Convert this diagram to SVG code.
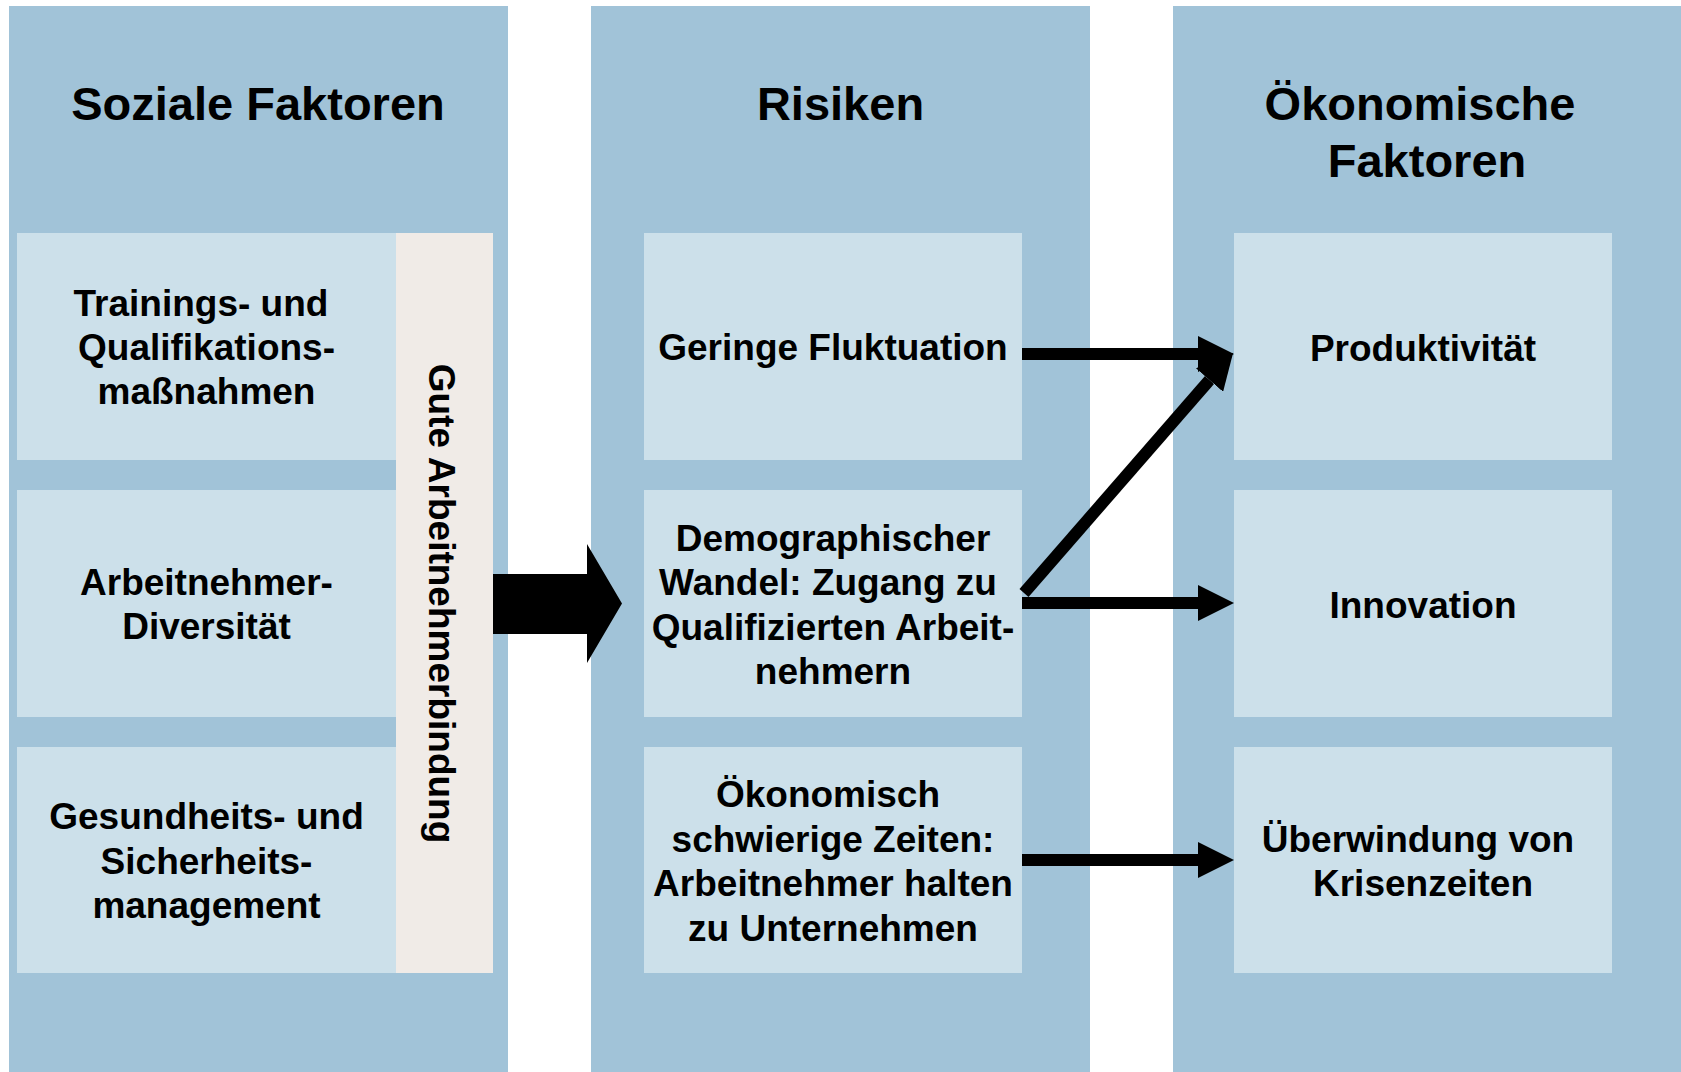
<svg xmlns="http://www.w3.org/2000/svg" width="1681" height="1072" viewBox="0 0 1681 1072">
<style>
.panel{fill:#A1C3D8}
.box{fill:#CCE0EA}
.band{fill:#F0EBE7}
text{font-family:"Liberation Sans",Arial,sans-serif;font-weight:bold;fill:#000}
.title{font-size:47px;text-anchor:middle}
.lbl{font-size:37px;text-anchor:middle}
.conn{stroke:#000;stroke-width:12;fill:none;marker-end:url(#head)}
</style>
<defs>
<marker id="head" markerUnits="userSpaceOnUse" markerWidth="36" markerHeight="36" refX="0" refY="18" orient="auto" viewBox="0 0 36 36">
<path d="M0,0 L36,18 L0,36 z" fill="#000"/>
</marker>
</defs>
<rect width="1681" height="1072" fill="#FFFFFF"/>

<g id="col-soziale">
<rect class="panel" x="9" y="6" width="499" height="1066"/>
<text class="title" x="258" y="120">Soziale Faktoren</text>
</g>
<g id="col-risiken">
<rect class="panel" x="591" y="6" width="499" height="1066"/>
<text class="title" x="840.5" y="120">Risiken</text>
</g>
<g id="col-oekonomisch">
<rect class="panel" x="1173" y="6" width="508" height="1066"/>
<text class="title" x="1420" y="120">Ökonomische</text>
<text class="title" x="1427" y="177">Faktoren</text>
</g>

<g id="s1">
<rect class="box" x="17" y="233" width="379" height="227"/>
<text class="lbl" x="201" y="315.5">Trainings- und</text>
<text class="lbl" x="206.5" y="360">Qualifikations-</text>
<text class="lbl" x="206.5" y="404">maßnahmen</text>
</g>
<g id="s2">
<rect class="box" x="17" y="490" width="379" height="227"/>
<text class="lbl" x="206.5" y="595">Arbeitnehmer-</text>
<text class="lbl" x="206.5" y="639">Diversität</text>
</g>
<g id="s3">
<rect class="box" x="17" y="747" width="379" height="226"/>
<text class="lbl" x="206.5" y="829">Gesundheits- und</text>
<text class="lbl" x="206.5" y="873.5">Sicherheits-</text>
<text class="lbl" x="206.5" y="918">management</text>
</g>
<g id="bindung">
<rect class="band" x="396" y="233" width="97" height="740"/>
<text class="lbl" transform="translate(429,603.5) rotate(90)">Gute Arbeitnehmerbindung</text>
</g>

<g id="r1">
<rect class="box" x="644" y="233" width="378" height="227"/>
<text class="lbl" x="833" y="360">Geringe Fluktuation</text>
</g>
<g id="r2">
<rect class="box" x="644" y="490" width="378" height="227"/>
<text class="lbl" x="833" y="550.5">Demographischer</text>
<text class="lbl" x="828" y="595">Wandel: Zugang zu</text>
<text class="lbl" x="833" y="639.5">Qualifizierten Arbeit-</text>
<text class="lbl" x="833" y="684">nehmern</text>
</g>
<g id="r3">
<rect class="box" x="644" y="747" width="378" height="226"/>
<text class="lbl" x="828" y="807">Ökonomisch</text>
<text class="lbl" x="833" y="851.5">schwierige Zeiten:</text>
<text class="lbl" x="833" y="896">Arbeitnehmer halten</text>
<text class="lbl" x="833" y="940.5">zu Unternehmen</text>
</g>

<g id="o1">
<rect class="box" x="1234" y="233" width="378" height="227"/>
<text class="lbl" x="1423" y="360.5">Produktivität</text>
</g>
<g id="o2">
<rect class="box" x="1234" y="490" width="378" height="227"/>
<text class="lbl" x="1423" y="617.5">Innovation</text>
</g>
<g id="o3">
<rect class="box" x="1234" y="747" width="378" height="226"/>
<text class="lbl" x="1418" y="851.5">Überwindung von</text>
<text class="lbl" x="1423" y="896">Krisenzeiten</text>
</g>

<g id="connectors">
<polygon points="493,574 587,574 587,544 622,603.5 587,663 587,634 493,634" fill="#000"/>
<line class="conn" x1="1022" y1="354" x2="1198" y2="354"/>
<line class="conn" x1="1022" y1="603" x2="1198" y2="603"/>
<line class="conn" x1="1022" y1="860" x2="1198" y2="860"/>
<line class="conn" x1="1024" y1="593" x2="1209.5" y2="380"/>
</g>
</svg>
